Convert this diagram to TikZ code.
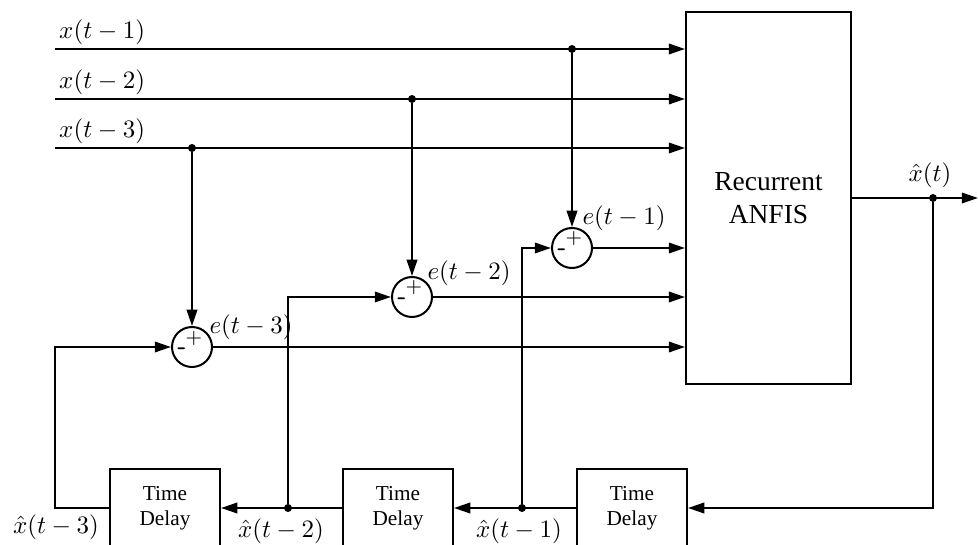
\documentclass[tikz,border=0pt]{standalone}
\usepackage{amsmath,amssymb}
\usepackage{fontspec}
\setmainfont{Liberation Serif}
\usetikzlibrary{arrows.meta,positioning}

\tikzset{
  sig/.style={line width=0.8pt},
  delaybox/.style={draw, line width=0.8pt, minimum width=44pt, minimum height=31.2pt,
    align=center, font=\fontsize{8.5}{10}\selectfont},
  sumnode/.style={draw, circle, line width=0.8pt, minimum size=16pt, inner sep=0pt},
  signtxt/.style={inner sep=0pt, font=\sffamily\footnotesize},
  dot/.style={circle, fill, inner sep=0pt, minimum size=3.2pt},
}

\begin{document}
\begin{tikzpicture}[x=0.4pt, y=-0.4pt, >={Triangle[length=6.5pt,width=4.2pt]}]
  \useasboundingbox (0,0) rectangle (979,545);

  % main block
  \node[draw, line width=0.8pt, minimum width=66pt, minimum height=148.8pt,
    align=center, font=\fontsize{11}{13}\selectfont] (anfis) at (768.5,198) {Recurrent\\ANFIS};

  % time delay blocks
  \node[delaybox] (td3) at (632,508) {Time\\Delay};
  \node[delaybox] (td2) at (398,508) {Time\\Delay};
  \node[delaybox] (td1) at (165,508) {Time\\Delay};

  % summing junctions
  \node[sumnode] (s1) at (572,248) {};
  \node[sumnode] (s2) at (412,297) {};
  \node[sumnode] (s3) at (192,347) {};
  \foreach \s in {s1,s2,s3} {
    \node[signtxt] (\s p) at ([shift={(2,-9)}]\s) {+};
    \node[signtxt, font=\sffamily\normalsize\bfseries] (\s m) at ([shift={(-10,4)}]\s) {-};
  }

  % inputs
  \coordinate (in1) at (55,49);
  \coordinate (in2) at (55,99);
  \coordinate (in3) at (55,148);
  \node[dot] (b1) at (572,49) {};
  \node[dot] (b2) at (412,99) {};
  \node[dot] (b3) at (192,148) {};
  \draw[sig,->] (in1) -- (anfis.west |- in1);
  \draw[sig,->] (in2) -- (anfis.west |- in2);
  \draw[sig,->] (in3) -- (anfis.west |- in3);
  \node[anchor=south west, inner sep=1.5pt] (lx1) at (in1) {$x(t-1)$};
  \node[anchor=south west, inner sep=1.5pt] (lx2) at (in2) {$x(t-2)$};
  \node[anchor=south west, inner sep=1.5pt] (lx3) at (in3) {$x(t-3)$};
  \draw[sig,->] (b1) -- (s1);
  \draw[sig,->] (b2) -- (s2);
  \draw[sig,->] (b3) -- (s3);

  % errors into the block
  \draw[sig,->] (s1) -- (anfis.west |- s1);
  \draw[sig,->] (s2) -- (anfis.west |- s2);
  \draw[sig,->] (s3) -- (anfis.west |- s3);
  \node[anchor=west, inner sep=0pt] (le1) at (582,218) {$e(t-1)$};
  \node[anchor=west, inner sep=0pt] (le2) at (427,273) {$e(t-2)$};
  \node[anchor=west, inner sep=0pt] (le3) at (209,327) {$e(t-3)$};

  % output and feedback
  \coordinate (yout) at (978,198);
  \node[dot] (d0) at (933,198) {};
  \draw[sig,->] (anfis.east) -- (yout);
  \node (lout) at (930,175) {$\hat{x}(t)$};
  \draw[sig,->] (d0) |- (td3.east);

  % delay chain
  \node[dot] (d1) at (522,508) {};
  \node[dot] (d2) at (288,508) {};
  \coordinate (fb3) at (55,508);
  \draw[sig,->] (td3.west) -- (td2.east);
  \draw[sig,->] (td2.west) -- (td1.east);
  \draw[sig,->] (d1) |- (s1);
  \draw[sig,->] (d2) |- (s2);
  \draw[sig,->] (td1.west) -- (fb3) |- (s3);
  \node[inner sep=0pt] (lh1) at (519,531) {$\hat{x}(t-1)$};
  \node[inner sep=0pt] (lh2) at (281,531) {$\hat{x}(t-2)$};
  \node[inner sep=0pt] (lh3) at (56,527) {$\hat{x}(t-3)$};
\end{tikzpicture}
\end{document}
